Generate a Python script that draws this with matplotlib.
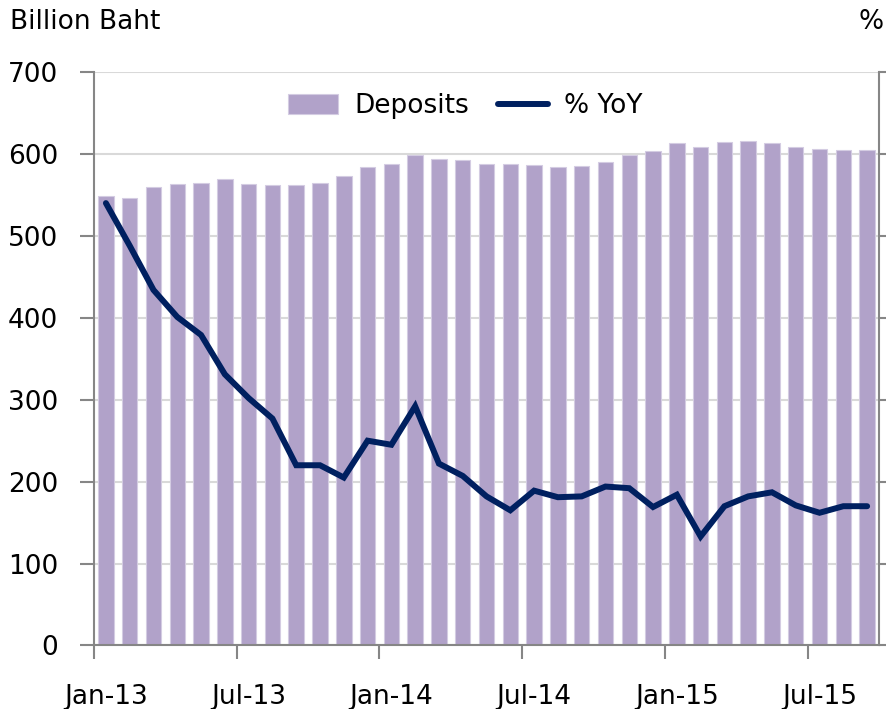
import numpy as np
import matplotlib
matplotlib.use("Agg")
import matplotlib.pyplot as plt

# monthly data Jan-13 .. Sep-15
months = ["Jan-13", "Feb-13", "Mar-13", "Apr-13", "May-13", "Jun-13",
          "Jul-13", "Aug-13", "Sep-13", "Oct-13", "Nov-13", "Dec-13",
          "Jan-14", "Feb-14", "Mar-14", "Apr-14", "May-14", "Jun-14",
          "Jul-14", "Aug-14", "Sep-14", "Oct-14", "Nov-14", "Dec-14",
          "Jan-15", "Feb-15", "Mar-15", "Apr-15", "May-15", "Jun-15",
          "Jul-15", "Aug-15", "Sep-15"]
deposits = [549, 546, 560, 563, 565, 570, 563, 562, 562, 564, 573, 584,
            588, 599, 594, 593, 588, 588, 587, 584, 585, 590, 599, 604,
            613, 609, 614, 616, 613, 609, 606, 605, 605]
# % YoY line, read in the chart's left-axis units (right axis scale is cropped)
yoy = [540, 488, 434, 401, 379, 331, 302, 277, 220, 220, 205, 250,
       245, 292, 222, 207, 182, 165, 189, 181, 182, 194, 192, 169,
       184, 133, 170, 182, 187, 171, 162, 170, 170]
label_months = ["Jan-13", "Jul-13", "Jan-14", "Jul-14", "Jan-15", "Jul-15"]

bar_color = "#B1A2C9"
line_color = "#002060"
axis_color = "#868686"
grid_color = "#D9D9D9"

plt.rcParams['font.family'] = ['DejaVu Sans']
plt.rcParams['font.size'] = 19

fig = plt.figure(figsize=(8.87, 7.09), dpi=100)
ax = fig.add_axes([0.106, 0.0896, 0.885, 0.8088])

x = np.arange(len(months))
bars = ax.bar(x, deposits, width=0.65, color=bar_color, edgecolor="#D4CCE2",
              linewidth=0.8, label="Deposits", zorder=2)
line, = ax.plot(x, yoy, color=line_color, linewidth=4.3,
                solid_capstyle="round", solid_joinstyle="miter",
                label="% YoY", zorder=3)

ax.set_xlim(-0.5, len(months) - 0.5)
ax.set_ylim(0, 700)
ax.set_yticks(np.arange(0, 701, 100))
ax.yaxis.grid(True, color=grid_color, linewidth=1.5, zorder=0)
ax.set_axisbelow(True)

# tick marks between categories, labels under the month bars
ax.set_xticks(np.arange(-0.5, len(months), 6))
ax.set_xticklabels([])
ax.set_xticks([months.index(m) for m in label_months], minor=True)
ax.set_xticklabels(label_months, minor=True)
ax.tick_params(axis="x", which="major", length=10, width=1.5,
               color=axis_color, direction="out")
ax.tick_params(axis="x", which="minor", length=0, pad=28)
ax.tick_params(axis="y", length=10, width=1.5, color=axis_color,
               direction="out", pad=16, right=True, labelright=False)

for side in ["left", "bottom", "right"]:
    ax.spines[side].set_color(axis_color)
    ax.spines[side].set_linewidth(1.5)
ax.spines["top"].set_visible(False)

ax.legend(handles=[bars, line], loc="center", bbox_to_anchor=(0.473, 0.94),
          ncol=2, frameon=False, handlelength=1.9, handleheight=0.8,
          handletextpad=0.6, columnspacing=1.1, fontsize=19)

fig.text(10 / 887, 1 - 22 / 709, "Billion Baht", ha="left", va="center",
         fontsize=19)
fig.text(884 / 887, 1 - 22 / 709, "%", ha="right", va="center", fontsize=19)

fig.savefig("out.png", dpi=100, facecolor="white")
